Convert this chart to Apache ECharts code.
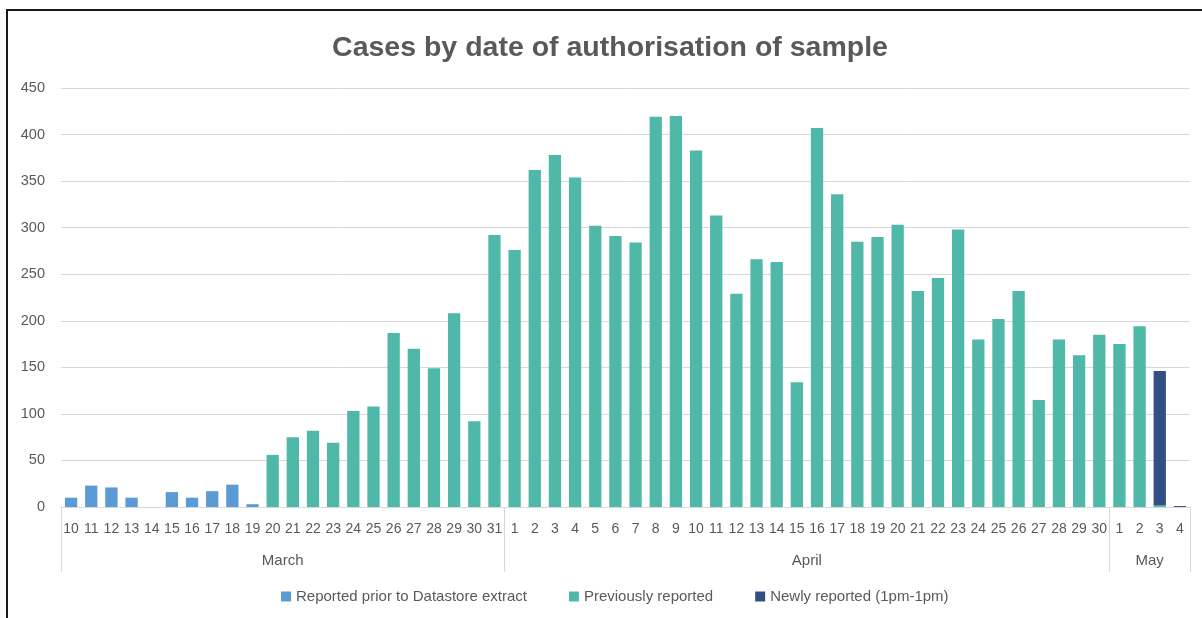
<!DOCTYPE html>
<html>
<head>
<meta charset="utf-8">
<script src="https://cdn.jsdelivr.net/npm/echarts@6/dist/echarts.min.js"></script>
<style>
  html, body { margin: 0; padding: 0; overflow: hidden; background: #fff; }
  #chart { width: 1202px; height: 618px; }
  #frame { position: absolute; left: 6px; top: 9px; width: 1400px; height: 800px;
           border-top: 2px solid #1a1a1a; border-left: 2px solid #1a1a1a; pointer-events: none; }
</style>
</head>
<body>
<div id="chart"></div>
<div id="frame"></div>
<script>
const titleText = 'Cases by date of authorisation of sample';
const monthNames = ['March', 'April', 'May'];
const monthDays = [
  ['10','11','12','13','14','15','16','17','18','19','20','21','22','23','24','25','26','27','28','29','30','31'],
  ['1','2','3','4','5','6','7','8','9','10','11','12','13','14','15','16','17','18','19','20','21','22','23','24','25','26','27','28','29','30'],
  ['1','2','3','4']
];
const yTicks = { min: 0, max: 450, interval: 50 };

const seriesNames = ['Reported prior to Datastore extract', 'Previously reported', 'Newly reported (1pm-1pm)'];
// March 10 - March 19
const reportedPrior = [10, 23, 21, 10, 0, 16, 10, 17, 24, 3];
// March 20 - May 4
const previouslyReported = [
  56, 75, 82, 69, 103, 108, 187, 170, 149, 208, 92, 292,
  276, 362, 378, 354, 302, 291, 284, 419, 420, 383, 313, 229, 266, 263, 134, 407, 336, 285,
  290, 303, 232, 246, 298, 180, 202, 232, 115, 180, 163, 185,
  175, 194, 2, 0
];
// May 3 - May 4
const newlyReported = [144, 1];

// build category arrays
const days = [];
const monthOf = [];
const monthStarts = [];
monthDays.forEach((arr, mi) => {
  monthStarts.push(days.length);
  arr.forEach(d => { days.push(d); monthOf.push(monthNames[mi]); });
});
const n = days.length;
const labelIdx = monthDays.map((arr, mi) => monthStarts[mi] + Math.floor((arr.length - 1) / 2));

const s1 = new Array(n).fill(null);
reportedPrior.forEach((v, i) => { s1[i] = v; });
const s2 = new Array(n).fill(null);
previouslyReported.forEach((v, i) => { s2[n - previouslyReported.length + i] = v; });
const s3 = new Array(n).fill(null);
newlyReported.forEach((v, i) => { s3[n - newlyReported.length + i] = v; });

const FONT = "'Liberation Sans', Arial, sans-serif";
const TXT = '#595959';
const GRID = '#d9d9d9';

const chart = echarts.init(document.getElementById('chart'), null, { renderer: 'canvas' });
chart.setOption({
  animation: false,
  backgroundColor: '#ffffff',
  title: {
    text: titleText,
    left: 610,
    textAlign: 'center',
    top: 34,
    padding: 0,
    textStyle: { fontFamily: FONT, fontSize: 28.5, fontWeight: 'bold', color: TXT }
  },
  legend: {
    left: 276,
    top: 584,
    itemWidth: 10,
    itemHeight: 10,
    itemGap: 42,
    icon: 'rect',
    textStyle: { fontFamily: FONT, fontSize: 15, color: TXT },
    data: seriesNames
  },
  grid: { left: 61, right: 12, top: 88, bottom: 111, containLabel: false },
  xAxis: [
    {
      type: 'category',
      data: days,
      position: 'bottom',
      axisLine: { show: true, lineStyle: { color: GRID, width: 1 } },
      axisTick: { show: false },
      axisLabel: { interval: 0, margin: 15, fontFamily: FONT, fontSize: 14, color: TXT }
    },
    {
      type: 'category',
      data: monthOf,
      position: 'bottom',
      axisLine: { show: false },
      axisTick: {
        show: true,
        length: 65,
        interval: (i) => monthStarts.indexOf(i) >= 0,
        lineStyle: { color: GRID, width: 1 }
      },
      axisLabel: {
        interval: (i) => labelIdx.indexOf(i) >= 0,
        margin: 46,
        formatter: (v) => '{m|' + v + '}',
        rich: { m: { fontFamily: FONT, fontSize: 15, color: TXT, padding: [0, 0, 0, 20] } }
      },
      splitLine: { show: false }
    }
  ],
  yAxis: {
    type: 'value',
    min: yTicks.min,
    max: yTicks.max,
    interval: yTicks.interval,
    axisLine: { show: false },
    axisTick: { show: false },
    axisLabel: { margin: 16, fontFamily: FONT, fontSize: 14.5, color: TXT },
    splitLine: { lineStyle: { color: GRID, width: 1 } }
  },
  series: [
    { name: seriesNames[0], type: 'bar', stack: 'total', data: s1, barCategoryGap: '39%',
      itemStyle: { color: '#5b9bd5' } },
    { name: seriesNames[1], type: 'bar', stack: 'total', data: s2, barCategoryGap: '39%',
      itemStyle: { color: '#4fb8a9' } },
    { name: seriesNames[2], type: 'bar', stack: 'total', data: s3, barCategoryGap: '39%',
      itemStyle: { color: '#324f86' } }
  ]
});
</script>
</body>
</html>
